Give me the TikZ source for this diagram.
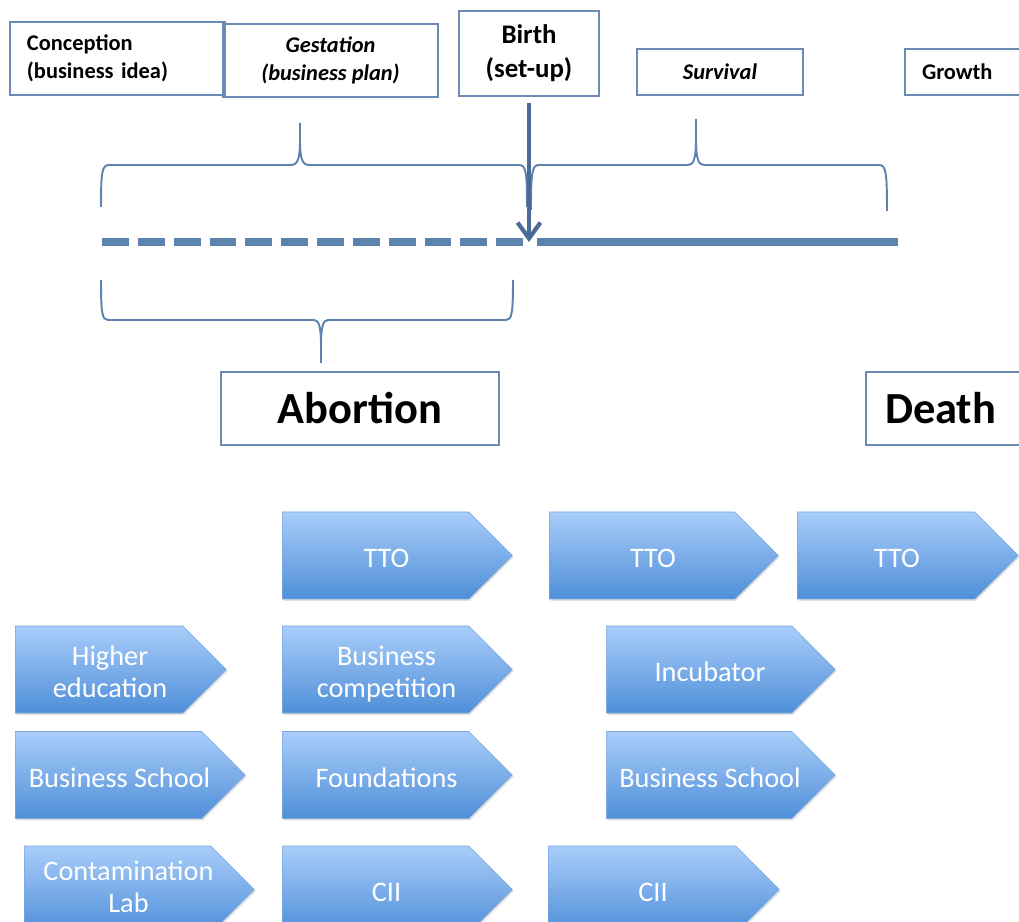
\documentclass[tikz,border=0pt]{standalone}
\usepackage{fontspec}
\setmainfont{Carlito}
\usetikzlibrary{arrows.meta,shapes.symbols,shadows}
\definecolor{BoxClr}{HTML}{6A8BB5}
\definecolor{LineClr}{HTML}{5C82AE}
\definecolor{ArrowClr}{HTML}{4A6B96}
\definecolor{ChevTop}{HTML}{A9CDFA}
\definecolor{ChevBot}{HTML}{4F8FD8}
\definecolor{ChevEdge}{HTML}{7AA7DD}
\newdimen\pxu \pxu=0.02cm
\newcommand\chevtxt[2][6]{\kern11\pxu\raisebox{-#1\pxu}[\height][\depth]{\begin{tabular}{@{}c@{}}#2\end{tabular}}\kern-11\pxu}

\begin{document}
\begin{tikzpicture}[x=0.02cm,y=-0.02cm,
  stage/.style={draw=BoxClr,line width=0.9pt,inner sep=0pt,align=center,
    font=\fontsize{12.75}{15.9}\selectfont\bfseries},
  stageit/.style={stage,font=\fontsize{12.75}{15.9}\selectfont\bfseries\itshape},
  fate/.style={draw=BoxClr,line width=0.9pt,inner sep=0pt,minimum height=73\pxu,
    font=\fontsize{25.3}{30}\selectfont\bfseries},
  chev/.style={signal,signal to=east,signal pointer angle=90,top color=ChevTop,
    bottom color=ChevBot,draw=ChevEdge,line width=0.3pt,text=white,inner sep=0pt,
    minimum height=87\pxu,anchor=west,font=\fontsize{16.1}{18.2}\selectfont,
    drop shadow={opacity=0.25,shadow xshift=0.8pt,shadow yshift=-1pt}},
  brace/.style={draw=LineClr,line width=1.1pt},
  timeline/.style={draw=LineClr,line width=4.5pt}]
\useasboundingbox (0,0) rectangle (1019,922);

\node[stage,minimum width=215\pxu,minimum height=73\pxu,text width=181\pxu,align=left] (conc) at (117.5,58.5) {Conception\\(business idea)};
\node[stageit,minimum width=215\pxu,minimum height=73\pxu] (gest) at (330.5,60.5) {Gestation\\(business plan)};
\node[stage,minimum width=140\pxu,minimum height=85\pxu,font=\fontsize{15.3}{19.3}\selectfont\bfseries] (birth) at (529,53.5) {Birth\\(set-up)};
\node[stageit,minimum width=166\pxu,minimum height=46\pxu] (surv) at (720,72) {Survival};
\node[stage,minimum width=135\pxu,minimum height=46\pxu,text width=101\pxu,align=left] (grow) at (972.5,72) {Growth};

\coordinate (lstart) at (102,242);
\coordinate (born) at (529,242);
\coordinate (lend) at (898,242);

\draw[brace] (101,207) .. controls (101,172) and (102,165) .. (109,165) -- (291,165)
  .. controls (298,165) and (300,158) .. (300,140) -- (300,123) -- (300,140)
  .. controls (300,158) and (302,165) .. (309,165) -- (519,165)
  .. controls (526,165) and (527,172) .. (527,207);
\draw[brace] (531,210) .. controls (531,172) and (532,165) .. (539,165) -- (688,165)
  .. controls (694,165) and (696,158) .. (696,138) -- (696,119) -- (696,138)
  .. controls (696,158) and (698,165) .. (704,165) -- (879,165)
  .. controls (886,165) and (887,172) .. (887,211);
\draw[brace] (101,280) .. controls (101,313) and (102,320) .. (108,320) -- (314,320)
  .. controls (319,320) and (321,327) .. (321,345) -- (321,363) -- (321,345)
  .. controls (321,327) and (323,320) .. (328,320) -- (506,320)
  .. controls (512,320) and (513,313) .. (513,280);

\draw[timeline,dash pattern=on 15.3pt off 5.1pt] (lstart) -- (born);
\draw[timeline] ([xshift=8\pxu]born) -- (lend);
\draw[draw=ArrowClr,line width=2.4pt,-{Straight Barb[length=9pt,width=13pt]}] ([yshift=-6\pxu]birth.south) -- (born);

\node[fate,minimum width=278\pxu] (abort) at (360,408.5) {Abortion};
\node[fate,minimum width=180\pxu,text width=142\pxu,align=left] (death) at (956,408.5) {Death};

\node[chev,minimum width=230\pxu] (ttoa) at (282,555.5) {\chevtxt{TTO}};
\node[chev,minimum width=229\pxu] (ttob) at (549,555.5) {\chevtxt{TTO}};
\node[chev,minimum width=221\pxu] (ttoc) at (797,555.5) {\chevtxt{TTO}};

\node[chev,minimum width=211\pxu] (hiedu) at (15,669.5) {\chevtxt{Higher\\education}};
\node[chev,minimum width=230\pxu] (bcomp) at (282,669.5) {\chevtxt{Business\\competition}};
\node[chev,minimum width=229\pxu] (incub) at (606,669.5) {\chevtxt{Incubator}};

\node[chev,minimum width=230\pxu] (bscha) at (15,775) {\chevtxt{Business School}};
\node[chev,minimum width=230\pxu] (found) at (282,775) {\chevtxt{Foundations}};
\node[chev,minimum width=229\pxu] (bschb) at (606,775) {\chevtxt{Business School}};

\node[chev,minimum width=230\pxu] (clab) at (24,889.5) {\chevtxt[1]{Contamination\\Lab}};
\node[chev,minimum width=230\pxu] (ciia) at (282,889.5) {\chevtxt{CII}};
\node[chev,minimum width=231\pxu] (ciib) at (548,889.5) {\chevtxt{CII}};

\end{tikzpicture}
\end{document}
